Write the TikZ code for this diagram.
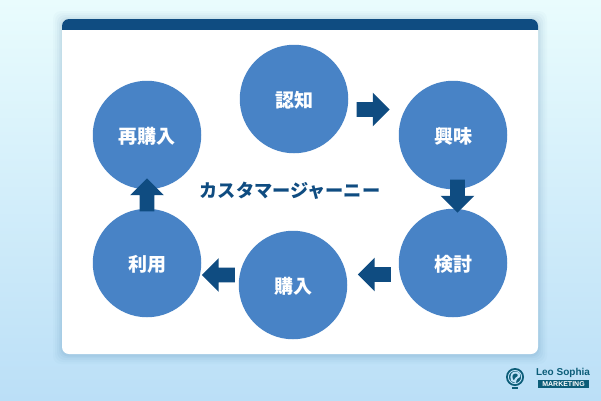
\documentclass[tikz,border=0pt]{standalone}
\usepackage{fontspec}
\setmainfont{Noto Sans CJK JP}[BoldFont={Noto Sans CJK JP Black}]
\newfontfamily\logofont{Liberation Sans}
\usetikzlibrary{shapes.arrows,calc}
\definecolor{navy}{HTML}{0F4C81}
\definecolor{disc}{HTML}{4883C6}
\definecolor{teal}{HTML}{0C5D78}
\definecolor{bgtop}{HTML}{E9FCFD}
\definecolor{bgbot}{HTML}{BBDFF7}
\definecolor{logobg}{HTML}{BFE2F8}
\tikzset{
  stage/.style={circle,fill=disc,minimum size=108.5pt,inner sep=0pt},
  stagetext/.style={text=white,font=\fontsize{19}{20}\selectfont\bfseries,inner sep=0pt},
  flow/.style={single arrow,fill=navy,draw=none,inner xsep=0pt,inner ysep=7.25pt,minimum height=33pt,minimum width=33pt,single arrow head extend=9.5pt,single arrow head indent=0pt,anchor=center},
}
\begin{document}
\begin{tikzpicture}[x=1pt,y=-1pt]
\useasboundingbox (0,0) rectangle (601,400);
\shade[top color=bgtop,bottom color=bgbot] (0,0) rectangle (601,400);
% soft card shadow
\foreach \g/\o in {9/0.02,7/0.025,5/0.03,3/0.035,1.5/0.04}{
  \fill[navy,opacity=\o,rounded corners=8pt] (62-\g,19-\g+1) rectangle (538+\g,354+\g+1);
}
\fill[white,rounded corners=7pt] (62,19) rectangle (538,354);
\begin{scope}
\clip (62,19) rectangle (538,29);
\fill[navy,rounded corners=7pt] (62,19) rectangle (538,60);
\end{scope}
\node[stage] (ninchi) at (294,99) {};
\node[stage] (kyoumi) at (453,135) {};
\node[stage] (kentou) at (453,263) {};
\node[stage] (kounyuu) at (293,285) {};
\node[stage] (riyou) at (147,263) {};
\node[stage] (saikou) at (147,135) {};
\node[stagetext] (t1) at ($(ninchi)+(0,1)$) {認知};
\node[stagetext] (t2) at ($(kyoumi)+(0,1)$) {興味};
\node[stagetext] (t3) at ($(kentou)+(0,1)$) {検討};
\node[stagetext] (t4) at ($(kounyuu)+(0,1)$) {購入};
\node[stagetext] (t5) at ($(riyou)+(0,1)$) {利用};
\node[stagetext] (t6) at ($(saikou)+(0,1)$) {再購入};
\node[font=\fontsize{18.2}{20}\selectfont\bfseries,text=navy,inner sep=0pt] (title) at (290,191) {カスタマージャーニー};
\node[flow] (a1) at (369.5,109.5) {};
\node[flow,rotate=-90] (a2) at (457.5,192.5) {};
\node[flow,rotate=180] (a3) at (378,274.5) {};
\node[flow,rotate=180] (a4) at (222,275) {};
\node[flow,rotate=90] (a5) at (147,198.5) {};
% logo
\fill[teal] (515,377) circle (9pt);
\draw[logobg,line width=0.9pt] (515,377) circle (6.6pt);
\fill[logobg] (511,381) .. controls (509,375) and (512,371) .. (516,371.5) .. controls (519,372) and (521,374) .. (520,377) .. controls (518,378) and (516,379) .. (516,383) -- cycle;
\fill[teal] (513,379) .. controls (511.5,376) and (513,373.5) .. (516,373.5) .. controls (517.5,374) and (518,375) .. (517.5,376) .. controls (516,377) and (514.5,378) .. (514,380) -- cycle;
\fill[teal] (512,387) rectangle (518,389);
\node[font=\logofont\fontsize{10}{12}\selectfont\bfseries,text=teal,inner sep=0pt] (brand) at (563,372.5) {Leo Sophia};
\node[fill=teal,text=white,font=\logofont\fontsize{7}{8}\selectfont\bfseries,minimum width=51pt,minimum height=8.5pt,inner sep=0pt] (mkt) at (563.5,384) {MARKETING};
\end{tikzpicture}
\end{document}
